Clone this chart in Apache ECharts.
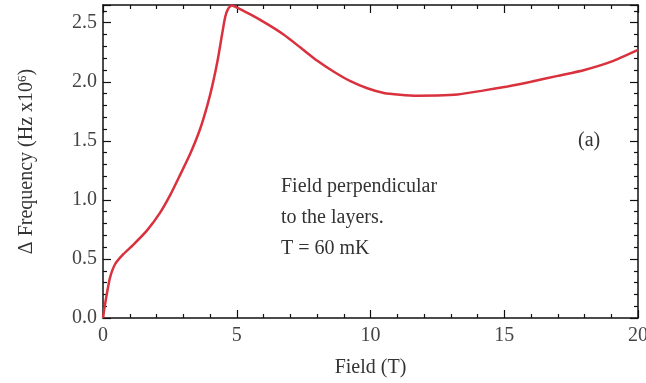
<!DOCTYPE html>
<html>
<head>
<meta charset="utf-8">
<script src="https://cdn.jsdelivr.net/npm/echarts@6/dist/echarts.min.js"></script>
<style>
    html, body { margin: 0; padding: 0; background: #fff; }
    #charts { width: 646px; height: 383px; }
</style>
</head>
<body>
<div id="charts"></div>
<script>
// field (T) and frequency shift (Hz x10^6)
var fieldT = [0, 0.05, 0.14, 0.26, 0.45, 0.76, 1.13, 1.64, 2.13, 2.51, 2.88, 3.26, 3.63, 3.9, 4.1, 4.3, 4.45, 4.57, 4.68, 4.8,
    4.95, 5.51, 6.13, 6.75, 7.38, 8.0, 8.63, 9.25, 9.88, 10.5, 11.1, 11.75, 12.5, 13.25, 14.2, 15.12, 16.0, 17.0, 18.0, 19.0, 20.0];
var freq = [0, 0.08, 0.20, 0.34, 0.455, 0.54, 0.62, 0.74, 0.89, 1.04, 1.21, 1.39, 1.60, 1.80, 1.98, 2.20, 2.40, 2.55, 2.62, 2.645,
    2.635, 2.57, 2.49, 2.40, 2.29, 2.18, 2.085, 2.005, 1.945, 1.905, 1.89, 1.882, 1.883, 1.892, 1.925, 1.96, 2.00, 2.05, 2.10, 2.17, 2.27];
var noteLines = ['Field perpendicular', 'to the layers.', 'T = 60 mK'];
var panelTag = '(a)';

var serif = '"Liberation Serif", "Times New Roman", serif';
var lineData = [];
for (var i = 0; i < fieldT.length; i++) {
    lineData.push([fieldT[i], freq[i]]);
}

var axisLine = { show: true, onZero: false, lineStyle: { color: '#111', width: 1.5 } };
var ticks = { show: true, inside: true, length: 8, lineStyle: { color: '#111', width: 1.2 } };
var minor = { show: true, splitNumber: 5, length: 4, lineStyle: { color: '#111', width: 1.2 } };

var myChart = echarts.init(document.getElementById('charts'));
var option = {
    animation: false,
    grid: { left: 103, right: 8, top: 5, bottom: 65, containLabel: false, outerBoundsMode: 'none' },
    xAxis: [{
        type: 'value', min: 0, max: 20, interval: 5,
        name: 'Field (T)', nameLocation: 'middle', nameGap: 40,
        nameTextStyle: { fontFamily: serif, fontSize: 20, color: '#333' },
        axisLine: axisLine, axisTick: ticks, minorTick: minor,
        splitLine: { show: false },
        axisLabel: { fontFamily: serif, fontSize: 20, color: '#444', margin: 8 }
    }, {
        type: 'value', min: 0, max: 20, interval: 5, position: 'top',
        axisLine: axisLine, axisTick: ticks, minorTick: minor,
        splitLine: { show: false },
        axisLabel: { show: false }
    }],
    yAxis: [{
        type: 'value', min: 0, max: 2.65, interval: 0.5,
        name: 'Δ Frequency (Hz x10{sup|6})', nameLocation: 'middle', nameGap: 66,
        nameTextStyle: {
            fontFamily: serif, fontSize: 20, color: '#333',
            rich: { sup: { fontFamily: serif, fontSize: 13, color: '#333', verticalAlign: 'top', padding: [0, 0, 8, 0] } }
        },
        axisLine: axisLine, axisTick: ticks, minorTick: minor,
        splitLine: { show: false },
        axisLabel: {
            fontFamily: serif, fontSize: 20, color: '#444', margin: 6, showMaxLabel: false,
            formatter: function (v) { return v.toFixed(1); }
        }
    }, {
        type: 'value', min: 0, max: 2.65, interval: 0.5, position: 'right',
        axisLine: axisLine, axisTick: ticks, minorTick: minor,
        splitLine: { show: false },
        axisLabel: { show: false }
    }],
    graphic: [{
        type: 'text', left: 281, top: 171,
        style: { text: noteLines.join('\n'), fontFamily: serif, fontSize: 20, lineHeight: 31, fill: '#333' }
    }, {
        type: 'text', left: 578, top: 131,
        style: { text: panelTag, fontFamily: serif, fontSize: 20, fill: '#333' }
    }],
    series: [{
        type: 'line',
        data: lineData,
        smooth: 0.2,
        showSymbol: false,
        clip: true,
        lineStyle: { color: '#d9313d', width: 2.5 }
    }]
};
myChart.setOption(option);
</script>
</body>
</html>
